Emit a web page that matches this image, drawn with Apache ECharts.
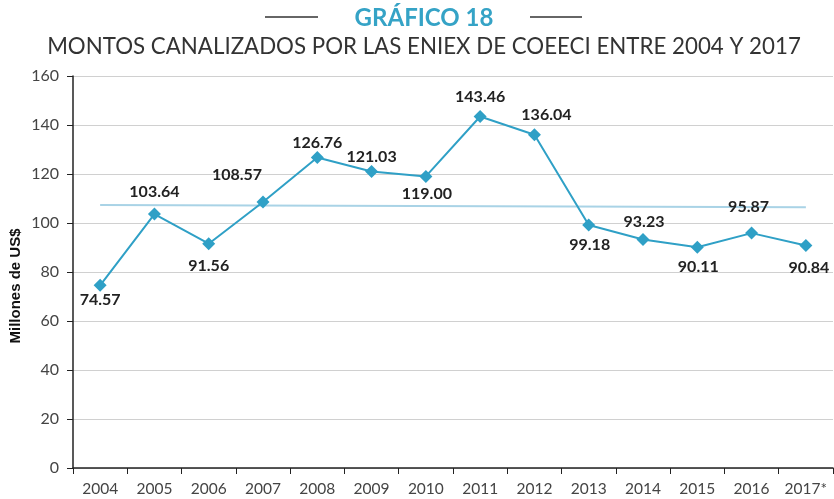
<!DOCTYPE html>
<html>
<head>
<meta charset="utf-8">
<script src="https://cdn.jsdelivr.net/npm/echarts@6/dist/echarts.min.js"></script>
<style>
  html, body { margin: 0; padding: 0; background: #fff; }
  #main { width: 834px; height: 499px; }
</style>
</head>
<body>
<div id="main"></div>
<script>
// datos
const years = ['2004', '2005', '2006', '2007', '2008', '2009', '2010', '2011', '2012', '2013', '2014', '2015', '2016', '2017*'];
const montos = [74.57, 103.64, 91.56, 108.57, 126.76, 121.03, 119.00, 143.46, 136.04, 99.18, 93.23, 90.11, 95.87, 90.84];
// linea de tendencia: solo extremos
const tendencia = [107.3, null, null, null, null, null, null, null, null, null, null, null, null, 106.4];
const yTicks = [0, 20, 40, 60, 80, 100, 120, 140, 160];

// desplazamiento de cada etiqueta respecto al punto
const labelOff = [[0, 15], [0, -22], [0, 22], [-26, -27], [0, -15], [0, -15], [1, 17], [0, -20], [12, -20], [1, 20], [1, -18], [1, 20], [-3, -26], [3, 22]];

const chart = echarts.init(document.getElementById('main'));

const option = {
  animation: false,
  textStyle: { fontFamily: 'Lato' },
  graphic: [
    { type: 'line', shape: { x1: 265, y1: 17, x2: 318, y2: 17 }, style: { stroke: '#333', lineWidth: 1.5 } },
    { type: 'line', shape: { x1: 530, y1: 17, x2: 582, y2: 17 }, style: { stroke: '#333', lineWidth: 1.5 } },
    {
      type: 'text', x: 424, y: 18,
      style: { text: 'GRÁFICO 18', fill: '#35a3c6', font: 'bold 24px Lato', textAlign: 'center', textVerticalAlign: 'middle' }
    },
    {
      type: 'text', x: 424, y: 47,
      style: { text: 'MONTOS CANALIZADOS POR LAS ENIEX DE COEECI ENTRE 2004 Y 2017', fill: '#333', font: '22.3px Lato', textAlign: 'center', textVerticalAlign: 'middle' }
    },
    {
      type: 'text', x: 16, y: 286, rotation: Math.PI / 2,
      style: { text: 'Millones de US$', fill: '#111', font: 'bold 15px "Liberation Sans"', textAlign: 'center', textVerticalAlign: 'middle' }
    }
  ],
  grid: { left: 73, right: 1, top: 76, bottom: 31 },
  xAxis: {
    type: 'category',
    data: years,
    boundaryGap: true,
    axisLine: { lineStyle: { color: '#222', width: 1.5 } },
    axisTick: { show: true, length: 6, interval: 0, lineStyle: { color: '#222' } },
    axisLabel: { color: '#444', fontSize: 15.5, margin: 13, interval: 0 }
  },
  yAxis: {
    type: 'value',
    min: yTicks[0],
    max: yTicks[yTicks.length - 1],
    interval: 20,
    axisLine: { show: true, lineStyle: { color: '#222', width: 1.5 } },
    axisTick: { show: true, length: 6, lineStyle: { color: '#222' } },
    axisLabel: { color: '#444', fontSize: 16, margin: 14 },
    splitLine: { lineStyle: { color: '#d0d0d0' } }
  },
  series: [
    {
      name: 'Tendencia',
      type: 'line',
      data: tendencia,
      connectNulls: true,
      symbol: 'none',
      lineStyle: { color: '#a9d3e6', width: 2 },
      z: 1
    },
    {
      name: 'Montos',
      type: 'line',
      data: montos.map((v, i) => ({
        value: v,
        label: { offset: labelOff[i] }
      })),
      symbol: 'diamond',
      symbolSize: 13,
      itemStyle: { color: '#2fa0c6' },
      lineStyle: { color: '#2fa0c6', width: 2 },
      label: {
        show: true,
        position: 'inside',
        formatter: p => p.value.toFixed(2),
        color: '#222',
        fontSize: 16,
        fontWeight: 'bold'
      },
      z: 2
    }
  ]
};

chart.setOption(option);
</script>
</body>
</html>
